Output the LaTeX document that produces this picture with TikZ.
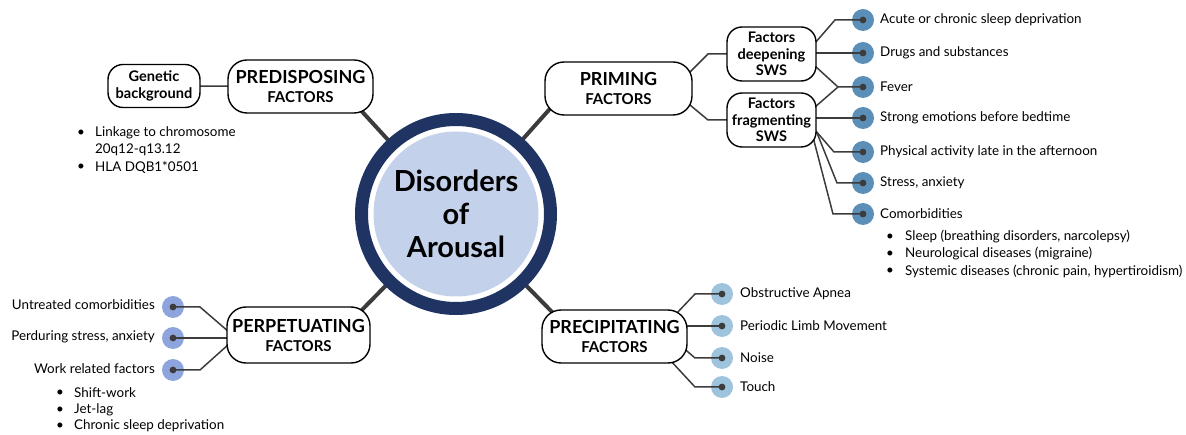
\documentclass[tikz,border=0pt]{standalone}
\usepackage{fontspec}
\setmainfont{Lato}
\usetikzlibrary{calc,backgrounds}
\definecolor{navy}{HTML}{1F3463}
\definecolor{hubfill}{HTML}{C3D1EA}
\definecolor{linec}{HTML}{3C3C3C}
\definecolor{primc}{HTML}{5B8FB8}
\definecolor{precc}{HTML}{9DC4DC}
\definecolor{perpc}{HTML}{8EA4DD}
\pgfdeclarelayer{circs}
\pgfdeclarelayer{lines}
\pgfsetlayers{circs,lines,main}
\tikzset{
  box/.style={draw=black, line width=1.4pt, rounded corners=19pt, fill=white, align=center, inner sep=0pt, text=black,
    font=\bfseries\fontsize{18}{18}\selectfont},
  subbox/.style={draw=black, line width=1.4pt, rounded corners=15pt, fill=white, align=center, inner sep=0pt,
    font=\bfseries\fontsize{14.6}{16.5}\selectfont},
  conn/.style={draw=linec, line width=1.5pt},
  spoke/.style={draw=linec, line width=4pt},
  bullet/.style={circle, minimum size=22pt, inner sep=0pt,
    path picture={\fill[linec] (path picture bounding box.center) circle (3.4pt);}},
  item/.style={anchor=west, inner sep=0pt, font=\fontsize{13.4}{15}\selectfont},
  litem/.style={anchor=east, inner sep=0pt, font=\fontsize{13.4}{15}\selectfont},
}
\newcommand{\smallt}[1]{{\fontsize{15}{15}\selectfont #1}}
\begin{document}
\begin{tikzpicture}[x=1pt,y=-1pt]
\useasboundingbox (0,0) rectangle (1186,435);

% ---------- hub ----------
\node[circle, draw=navy, line width=13pt, fill=white, minimum size=189pt, inner sep=0pt] (hub) at (456,214) {};
\node[circle, fill=hubfill, minimum size=165pt, inner sep=0pt, align=center,
  font=\bfseries\fontsize{29}{33}\selectfont] (hubin) at (456,214) {Disorders\\of\\Arousal};

% ---------- main boxes ----------
\node[box, minimum width=145pt, minimum height=53pt] (pred) at (300.5,86.5) {PREDISPOSING\\[1pt]\smallt{FACTORS}};
\node[box, minimum width=147pt, minimum height=53pt] (prim) at (618.5,88.5) {PRIMING\\[1pt]\smallt{FACTORS}};
\node[box, minimum width=143pt, minimum height=56pt] (perp) at (298.5,335) {PERPETUATING\\[1pt]\smallt{FACTORS}};
\node[box, minimum width=145pt, minimum height=53pt] (prec) at (614.5,336.5) {PRECIPITATING\\[1pt]\smallt{FACTORS}};

% ---------- sub boxes ----------
\node[subbox, minimum width=92pt, minimum height=43pt] (gen) at (154,86) {Genetic\\background};
\node[subbox, minimum width=89pt, minimum height=54pt] (deep) at (771.5,54) {Factors\\deepening\\SWS};
\node[subbox, minimum width=89pt, minimum height=54pt] (frag) at (771.5,120) {Factors\\fragmenting\\SWS};

% ---------- bullets (circles) ----------
\begin{pgfonlayer}{circs}
\node[bullet, fill=primc] (c1) at (863,20) {};
\node[bullet, fill=primc] (c2) at (863,53) {};
\node[bullet, fill=primc] (c3) at (863,87) {};
\node[bullet, fill=primc] (c4) at (863,118) {};
\node[bullet, fill=primc] (c5) at (863,152) {};
\node[bullet, fill=primc] (c6) at (863,183) {};
\node[bullet, fill=primc] (c7) at (863,214) {};
\node[bullet, fill=precc] (q1) at (722,294) {};
\node[bullet, fill=precc] (q2) at (722,326) {};
\node[bullet, fill=precc] (q3) at (722,358) {};
\node[bullet, fill=precc] (q4) at (722,387) {};
\node[bullet, fill=perpc] (p1) at (173,307) {};
\node[bullet, fill=perpc] (p2) at (173,338) {};
\node[bullet, fill=perpc] (p3) at (173,370) {};
\end{pgfonlayer}

% ---------- connectors ----------
\begin{pgfonlayer}{lines}
% spokes
\draw[spoke] (hub.center) -- ++(-100,-109);
\draw[spoke] (hub.center) -- ++(100,-112);
\draw[spoke] (hub.center) -- ++(-98,100);
\draw[spoke] (hub.center) -- ++(100,102);
% predisposing
\draw[conn] (gen.center) -- (pred.center);
% priming
\draw[conn] (prim.center) -- (678,72) -- (690,72) -- (708,54) -- (deep.center);
\draw[conn] (prim.center) -- (678,105) -- (690,105) -- (708,120) -- (frag.center);
\draw[conn] (deep.center) -- (805,43) -- (815,43) -- (835,20) -- (c1.center);
\draw[conn] (deep.center |- c2) -- (c2.center);
\draw[conn] (deep.center) -- (805,66) -- (815,66) -- (838,87) -- (c3.center);
\draw[conn] (frag.center) -- (805,107) -- (815,107) -- (838,87);
\draw[conn] (frag.center |- c4) -- (c4.center);
\draw[conn] (frag.center) -- (805,130) -- (815,130) -- (834,152) -- (c5.center);
\draw[conn] (frag.center) -- (810,132) -- (817,133) -- (837,183) -- (c6.center);
\draw[conn] (frag.center) -- (806,136) -- (813,137) -- (833,214) -- (c7.center);
% precipitating
\draw[conn] (prec.center) -- (676,314) -- (695,294) -- (q1.center);
\draw[conn] (prec.center |- q2) -- (q2.center);
\draw[conn] (prec.center) -- (680,345) -- (695,358) -- (q3.center);
\draw[conn] (prec.center) -- (670,360) -- (695,387) -- (q4.center);
% perpetuating
\draw[conn] (perp.center) -- (229,332) -- (200,307) -- (p1.center);
\draw[conn] (perp.center |- p2) -- (p2.center);
\draw[conn] (perp.center) -- (229,344) -- (200,370) -- (p3.center);
\end{pgfonlayer}

% ---------- texts ----------
\node[item] (t1) at (880,20) {Acute or chronic sleep deprivation};
\node[item] (t2) at (880,53) {Drugs and substances};
\node[item] (t3) at (880,87) {Fever};
\node[item] (t4) at (880,118) {Strong emotions before bedtime};
\node[item] (t5) at (880,152) {Physical activity late in the afternoon};
\node[item] (t6) at (880,183) {Stress, anxiety};
\node[item] (t7) at (880,214) {Comorbidities};
\node[item] (b71) at (886,237) {•};
\node[item] (s71) at (905,237) {Sleep (breathing disorders, narcolepsy)};
\node[item] (b72) at (886,254) {•};
\node[item] (s72) at (905,254) {Neurological diseases (migraine)};
\node[item] (b73) at (886,271) {•};
\node[item] (s73) at (905,271) {Systemic diseases (chronic pain, hypertiroidism)};

\node[item] (u1) at (740,294) {Obstructive Apnea};
\node[item] (u2) at (740,326) {Periodic Limb Movement};
\node[item] (u3) at (740,358) {Noise};
\node[item] (u4) at (740,387) {Touch};

\node[litem] (v1) at (155,305) {Untreated comorbidities};
\node[litem] (v2) at (155,337) {Perduring stress, anxiety};
\node[litem] (v3) at (155,369) {Work related factors};
\node[item] (b31) at (56,393) {•};
\node[item] (s31) at (74,393) {Shift-work};
\node[item] (b32) at (56,410) {•};
\node[item] (s32) at (74,410) {Jet-lag};
\node[item] (b33) at (56,426) {•};
\node[item] (s33) at (74,426) {Chronic sleep deprivation};

\node[item] (b01) at (77,133) {•};
\node[item] (s01) at (95,133) {Linkage to chromosome};
\node[item] (s02) at (95,150) {20q12-q13.12};
\node[item] (b02) at (77,167) {•};
\node[item] (s03) at (95,167) {HLA DQB1*0501};
\end{tikzpicture}
\end{document}
